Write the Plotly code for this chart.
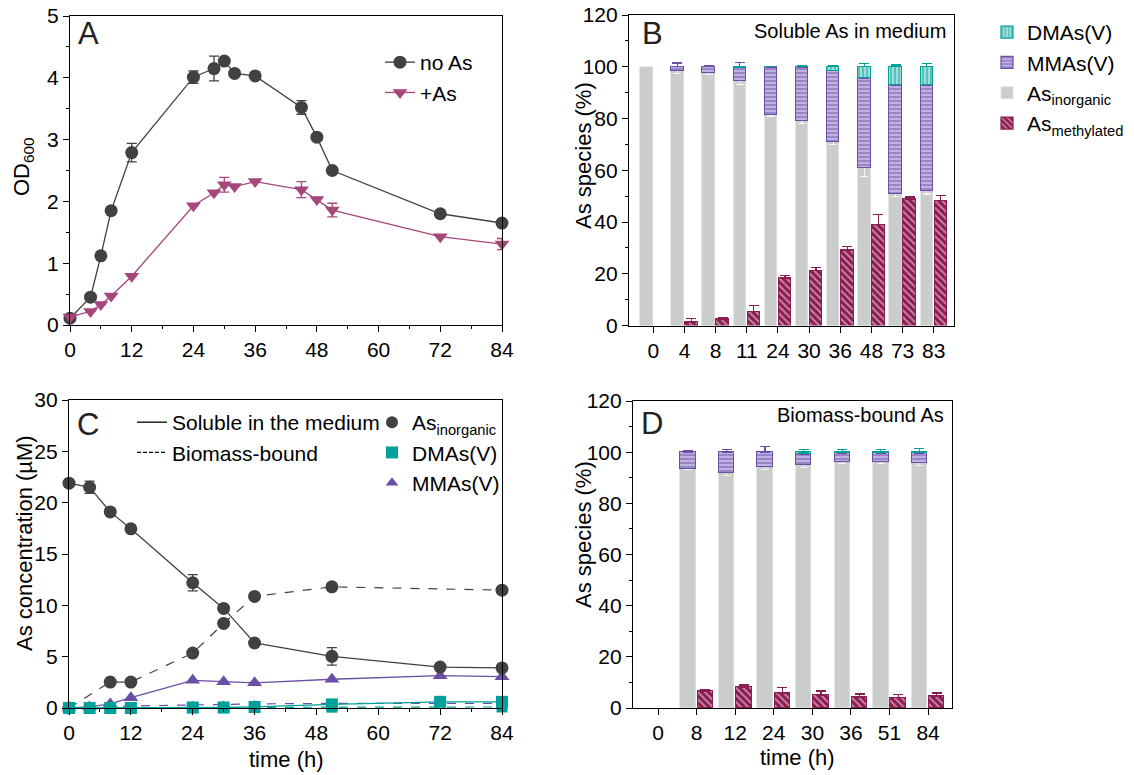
import plotly.graph_objects as go

FONT = "Liberation Sans, Arial, Helvetica, sans-serif"

# ---------------- Panel A: growth ----------------
time_A = [0, 4, 6, 8, 12, 24, 28, 30, 32, 36, 45, 48, 51, 72, 84]
od_noAs = [0.11, 0.45, 1.12, 1.85, 2.79, 4.01, 4.15, 4.27, 4.07, 4.03, 3.52, 3.04, 2.50, 1.80, 1.65]
od_noAs_err = [0, 0, 0, 0, 0.15, 0.10, 0.20, 0, 0, 0, 0.11, 0, 0, 0, 0]
od_As = [0.13, 0.22, 0.33, 0.47, 0.79, 1.93, 2.14, 2.27, 2.24, 2.32, 2.19, 2.03, 1.86, 1.43, 1.31]
od_As_err = [0, 0, 0, 0, 0, 0, 0, 0.12, 0, 0, 0.13, 0, 0.11, 0, 0.09]

# ---------------- Panel B: soluble As species (%) ----------------
cats_B = ["0", "4", "8", "11", "24", "30", "36", "48", "73", "83"]
inorg_B = [100, 98.5, 97.5, 94.5, 81.5, 79.0, 71.0, 61.0, 51.0, 52.0]
inorg_B_err = [0, 1.0, 0.5, 1.5, 0.5, 0.8, 1.2, 3.5, 1.0, 1.2]
mma_B = [None, 1.5, 2.5, 5.2, 18.3, 20.8, 27.5, 34.5, 42.0, 41.0]
mma_B_err = [0, 1.5, 0.5, 2.0, 0.4, 0.6, 0.6, 3.0, 0.5, 0.8]
dma_B = [None, None, None, 0.3, 0.2, 0.2, 1.5, 4.5, 7.0, 7.0]
dma_B_err = [0, 0, 0, 0, 0, 0.3, 0.4, 1.3, 0.7, 1.3]
methyl_B = [None, 1.3, 2.5, 5.3, 18.3, 21.2, 29.0, 39.0, 48.8, 48.2]
methyl_B_err = [0, 1.5, 0.4, 2.3, 1.0, 1.3, 1.5, 4.0, 0.9, 2.0]

# ---------------- Panel C: concentrations (uM) ----------------
time_C_sol = [0, 4, 8, 12, 24, 30, 36, 51, 72, 84]
inorg_sol = [21.9, 21.5, 19.1, 17.45, 12.2, 9.7, 6.33, 5.03, 3.99, 3.9]
inorg_sol_err = [0, 0.6, 0, 0, 0.8, 0, 0, 0.85, 0, 0]
mma_sol = [0, 0.1, 0.4, 1.0, 2.7, 2.55, 2.45, 2.8, 3.15, 3.05]
dma_sol = [0, 0, 0, 0, 0.05, 0.05, 0.1, 0.35, 0.6, 0.6]
time_C_bio = [0, 8, 12, 24, 30, 36, 51, 84]
inorg_bio = [0, 2.53, 2.53, 5.35, 8.24, 10.87, 11.8, 11.48]
mma_bio = [0, 0.15, 0.2, 0.3, 0.35, 0.4, 0.45, 0.45]
dma_bio = [0, 0, 0, 0.02, 0.03, 0.05, 0.08, 0.1]

# ---------------- Panel D: biomass-bound As species (%) ----------------
cats_D = ["0", "8", "12", "24", "30", "36", "51", "84"]
inorg_D = [None, 93.6, 92.0, 94.3, 95.0, 96.0, 96.0, 95.6]
inorg_D_err = [0, 0.5, 1.0, 1.0, 1.0, 0.5, 0.5, 0.7]
mma_D = [None, 6.4, 8.0, 5.7, 4.3, 3.5, 3.5, 3.9]
mma_D_err = [0, 0.5, 1.0, 2.3, 0, 0, 0, 0]
dma_D = [None, None, None, None, 0.7, 0.5, 0.5, 0.5]
dma_D_err = [0, 0, 0, 0, 1.0, 1.0, 1.0, 1.3]
methyl_D = [None, 6.5, 8.2, 5.8, 5.0, 4.2, 4.1, 4.5]
methyl_D_err = [0, 0.5, 0.8, 2.2, 1.7, 1.3, 1.3, 1.4]

# ---------------- styles ----------------
C_DARK = "#414141"
C_PINK = "#a6477c"
C_PURPLE = "#6a4fa5"
C_TEAL = "#00a19a"
C_GRAY = "#cacdcc"
C_MAROON = "#8c1c52"

fig = go.Figure()

# ----- Panel A -----
fig.add_trace(go.Scatter(
    x=time_A, y=od_noAs, mode="lines+markers", name="no As",
    line=dict(color=C_DARK, width=1.3),
    marker=dict(symbol="circle", size=13, color=C_DARK),
    error_y=dict(type="data", array=od_noAs_err, color=C_DARK, thickness=1.3, width=5),
    cliponaxis=False, xaxis="x", yaxis="y", legend="legend"))
fig.add_trace(go.Scatter(
    x=time_A, y=od_As, mode="lines+markers", name="+As",
    line=dict(color=C_PINK, width=1.3),
    marker=dict(symbol="triangle-down", size=13, color=C_PINK),
    error_y=dict(type="data", array=od_As_err, color=C_PINK, thickness=1.3, width=5),
    cliponaxis=False, xaxis="x", yaxis="y", legend="legend"))

# ----- stacked/grouped bar helper -----
OFF = 0.225
BW = 0.4


def add_bars(inorg, inorg_err, mma, mma_err, dma, dma_err, meth, meth_err, xa, ya, show):
    n = len(inorg)
    xl = [i - OFF for i in range(n)]
    xr = [i + OFF for i in range(n)]
    fig.add_trace(go.Bar(
        x=xl, y=inorg, width=BW, name="As<sub>inorganic</sub>",
        marker=dict(color=C_GRAY, line=dict(color="#dfe1e1", width=0.8)),
        error_y=dict(type="data", array=inorg_err, color="#f4f4f4", thickness=1.2, width=4),
        xaxis=xa, yaxis=ya, legend="legend2", showlegend=show, legendrank=3))
    fig.add_trace(go.Bar(
        x=xl, y=mma, width=BW, name="MMAs(V)",
        marker=dict(color="#c0b1e0", line=dict(color=C_PURPLE, width=1.2),
                    pattern=dict(shape="-", fgcolor=C_PURPLE, bgcolor="#c9bce6",
                                 size=4, solidity=0.6)),
        error_y=dict(type="data", array=mma_err, arrayminus=[0] * n, symmetric=False,
                     color=C_PURPLE, thickness=1.3, width=5),
        xaxis=xa, yaxis=ya, legend="legend2", showlegend=show, legendrank=2))
    fig.add_trace(go.Bar(
        x=xl, y=dma, width=BW, name="DMAs(V)",
        marker=dict(color="#aee0dd", line=dict(color=C_TEAL, width=1.2),
                    pattern=dict(shape="|", fgcolor=C_TEAL, bgcolor="#b5e3e0",
                                 size=4, solidity=0.6)),
        error_y=dict(type="data", array=dma_err, arrayminus=[0] * n, symmetric=False,
                     color=C_TEAL, thickness=1.3, width=5),
        xaxis=xa, yaxis=ya, legend="legend2", showlegend=show, legendrank=1))
    fig.add_trace(go.Bar(
        x=xr, y=meth, width=BW, name="As<sub>methylated</sub>",
        marker=dict(color=C_MAROON, line=dict(color=C_MAROON, width=1.2),
                    pattern=dict(shape="\\", fgcolor="#ffffff", bgcolor=C_MAROON,
                                 size=5, solidity=0.35)),
        error_y=dict(type="data", array=meth_err, arrayminus=[0] * n, symmetric=False,
                     color=C_MAROON, thickness=1.3, width=5),
        xaxis=xa, yaxis=ya, legend="legend2", showlegend=show, legendrank=4))


add_bars(inorg_B, inorg_B_err, mma_B, mma_B_err, dma_B, dma_B_err, methyl_B, methyl_B_err,
         "x2", "y2", True)
add_bars(inorg_D, inorg_D_err, mma_D, mma_D_err, dma_D, dma_D_err, methyl_D, methyl_D_err,
         "x4", "y4", False)

# ----- Panel C -----
fig.add_trace(go.Scatter(
    x=time_C_bio, y=dma_bio, mode="lines+markers", showlegend=False,
    line=dict(color=C_TEAL, width=1.2, dash="dash"),
    marker=dict(symbol="square", size=11, color=C_TEAL),
    cliponaxis=False, xaxis="x3", yaxis="y3"))
fig.add_trace(go.Scatter(
    x=time_C_bio, y=mma_bio, mode="lines+markers", showlegend=False,
    line=dict(color=C_PURPLE, width=1.2, dash="dash"),
    marker=dict(symbol="triangle-up", size=8, color=C_PURPLE),
    cliponaxis=False, xaxis="x3", yaxis="y3"))
fig.add_trace(go.Scatter(
    x=time_C_bio, y=inorg_bio, mode="lines+markers", showlegend=False,
    line=dict(color=C_DARK, width=1.2, dash="dash"),
    marker=dict(symbol="circle", size=13, color=C_DARK),
    cliponaxis=False, xaxis="x3", yaxis="y3"))
fig.add_trace(go.Scatter(
    x=time_C_sol, y=mma_sol, mode="lines+markers", showlegend=False,
    line=dict(color=C_PURPLE, width=1.3),
    marker=dict(symbol="triangle-up", size=13, color=C_PURPLE),
    cliponaxis=False, xaxis="x3", yaxis="y3"))
fig.add_trace(go.Scatter(
    x=time_C_sol, y=inorg_sol, mode="lines+markers", showlegend=False,
    line=dict(color=C_DARK, width=1.3),
    marker=dict(symbol="circle", size=13, color=C_DARK),
    error_y=dict(type="data", array=inorg_sol_err, color=C_DARK, thickness=1.3, width=5),
    cliponaxis=False, xaxis="x3", yaxis="y3"))
fig.add_trace(go.Scatter(
    x=time_C_sol, y=dma_sol, mode="lines+markers", showlegend=False,
    line=dict(color=C_TEAL, width=1.3),
    marker=dict(symbol="square", size=12, color=C_TEAL),
    cliponaxis=False, xaxis="x3", yaxis="y3"))

# legend keys for panel C
fig.add_trace(go.Scatter(x=[None], y=[None], mode="lines", name="Soluble in the medium",
                         line=dict(color="black", width=1.3), xaxis="x3", yaxis="y3",
                         legend="legend3"))
fig.add_trace(go.Scatter(x=[None], y=[None], mode="lines", name="Biomass-bound",
                         line=dict(color="black", width=1.3, dash="4px,2px"), xaxis="x3",
                         yaxis="y3", legend="legend3"))
fig.add_trace(go.Scatter(x=[None], y=[None], mode="markers", name="As<sub>inorganic</sub>",
                         marker=dict(symbol="circle", size=12, color=C_DARK), xaxis="x3",
                         yaxis="y3", legend="legend4"))
fig.add_trace(go.Scatter(x=[None], y=[None], mode="markers", name="DMAs(V)",
                         marker=dict(symbol="square", size=12, color=C_TEAL), xaxis="x3",
                         yaxis="y3", legend="legend4"))
fig.add_trace(go.Scatter(x=[None], y=[None], mode="markers", name="MMAs(V)",
                         marker=dict(symbol="triangle-up", size=11, color=C_PURPLE), xaxis="x3",
                         yaxis="y3", legend="legend4"))

# ---------------- layout ----------------
W, H = 1134, 775


def px_x(p):
    return p / W


def px_y(p):
    return 1 - p / H


tickfont = dict(family=FONT, size=21, color="black")
TITLE_SIZE = 22


def axis(domain, rng, **kw):
    d = dict(domain=domain, range=rng, showline=True, linecolor="black", linewidth=1.2,
             mirror=True, ticks="outside", ticklen=6, tickwidth=1.2, tickcolor="black",
             showgrid=False, zeroline=False, tickfont=tickfont, fixedrange=True,
             automargin=False)
    d.update(kw)
    return d


minor_x = dict(ticks="outside", ticklen=3, tickwidth=1.2, tickcolor="black", dtick=6, showgrid=False)
minor_y10 = dict(ticks="outside", ticklen=3, tickwidth=1.2, tickcolor="black", dtick=10)

fig.update_layout(
    width=W, height=H, margin=dict(l=0, r=0, t=0, b=0, autoexpand=False),
    paper_bgcolor="white", plot_bgcolor="white",
    font=dict(family=FONT, size=20, color="black"),
    barmode="stack", bargap=0,
    xaxis=axis([px_x(70), px_x(502)], [0, 84], anchor="y", tick0=0, dtick=12, minor=minor_x),
    yaxis=axis([px_y(325), px_y(16)], [0, 5], anchor="x", tick0=0, dtick=1,
               minor=dict(ticks="outside", ticklen=3, tickwidth=1.2, tickcolor="black", dtick=0.5)),
    xaxis2=axis([px_x(629), px_x(954)], [-0.78, 9.65], anchor="y2",
                tickmode="array", tickvals=list(range(len(cats_B))), ticktext=cats_B),
    yaxis2=axis([px_y(325.5), px_y(15)], [0, 120], anchor="x2", tick0=0, dtick=20, minor=minor_y10),
    xaxis3=axis([px_x(69), px_x(502)], [0, 84], anchor="y3", tick0=0, dtick=12, minor=minor_x),
    yaxis3=axis([px_y(708), px_y(400)], [0, 30], anchor="x3", tick0=0, dtick=5),
    xaxis4=axis([px_x(633), px_x(952)], [-0.65, 7.62], anchor="y4",
                tickmode="array", tickvals=list(range(len(cats_D))), ticktext=cats_D),
    yaxis4=axis([px_y(708), px_y(401)], [0, 120], anchor="x4", tick0=0, dtick=20, minor=minor_y10),
    legend=dict(x=px_x(380), y=px_y(42), xanchor="left", yanchor="top",
                bgcolor="rgba(0,0,0,0)", font=dict(family=FONT, size=21), tracegroupgap=0),
    legend2=dict(x=px_x(987), y=px_y(12), xanchor="left", yanchor="top",
                 bgcolor="rgba(0,0,0,0)", font=dict(family=FONT, size=21), traceorder="normal"),
    legend3=dict(x=px_x(132), y=px_y(402), xanchor="left", yanchor="top",
                 bgcolor="rgba(0,0,0,0)", font=dict(family=FONT, size=21)),
    legend4=dict(x=px_x(372), y=px_y(402), xanchor="left", yanchor="top",
                 bgcolor="rgba(0,0,0,0)", font=dict(family=FONT, size=21)),
)

# axis titles as annotations (exact placement)
titles = [
    dict(text="OD<sub>600</sub>", x=px_x(23), y=px_y(167), textangle=-90),
    dict(text="As species (%)", x=px_x(583), y=px_y(156), textangle=-90),
    dict(text="As concentration (µM)", x=px_x(24), y=px_y(543), textangle=-90),
    dict(text="As species (%)", x=px_x(583), y=px_y(535), textangle=-90),
    dict(text="time (h)", x=px_x(286), y=px_y(759), textangle=0),
    dict(text="time (h)", x=px_x(797), y=px_y(757), textangle=0),
]
for t in titles:
    fig.add_annotation(xref="paper", yref="paper", showarrow=False, xanchor="center",
                       yanchor="middle", font=dict(family=FONT, size=TITLE_SIZE, color="black"), **t)

ann = [
    dict(text="A", x=px_x(88), y=px_y(33)),
    dict(text="B", x=px_x(652), y=px_y(33)),
    dict(text="C", x=px_x(88), y=px_y(425)),
    dict(text="D", x=px_x(652), y=px_y(423)),
]
for a in ann:
    fig.add_annotation(xref="paper", yref="paper", showarrow=False, xanchor="center",
                       yanchor="middle", font=dict(family=FONT, size=31, color="#222222"), **a)
fig.add_annotation(xref="paper", yref="paper", x=px_x(948), y=px_y(31), text="Soluble As in medium",
                   showarrow=False, xanchor="right", yanchor="middle",
                   font=dict(family=FONT, size=20, color="black"))
fig.add_annotation(xref="paper", yref="paper", x=px_x(946), y=px_y(415), text="Biomass-bound As",
                   showarrow=False, xanchor="right", yanchor="middle",
                   font=dict(family=FONT, size=20, color="black"))

fig.write_html("out.html", config={"displayModeBar": False, "staticPlot": False},
               post_script="document.body.style.margin='0';document.body.style.overflow='hidden';")
